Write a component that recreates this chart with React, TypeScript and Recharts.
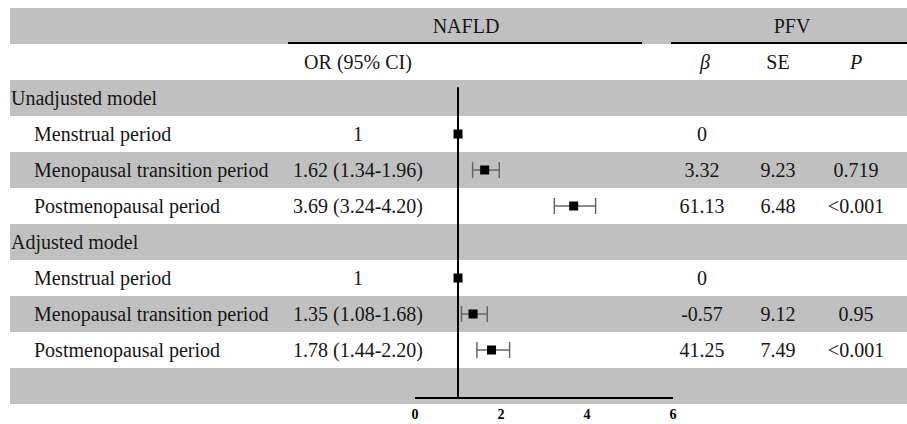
import {
  ScatterChart,
  Scatter,
  ErrorBar,
  XAxis,
  YAxis,
  ReferenceArea,
  ReferenceLine,
} from "recharts";

const groups = ["Unadjusted model", "Adjusted model"];
const periods = ["Menstrual period", "Menopausal transition period", "Postmenopausal period"];
const orEst = [1, 1.62, 3.69, 1, 1.35, 1.78];
const orLow = [null, 1.34, 3.24, null, 1.08, 1.44];
const orHigh = [null, 1.96, 4.2, null, 1.68, 2.2];
const betaVals = ["0", "3.32", "61.13", "0", "-0.57", "41.25"];
const seVals = ["", "9.23", "6.48", "", "9.12", "7.49"];
const pVals = ["", "0.719", "<0.001", "", "0.95", "<0.001"];
const xTicks = [0, 2, 4, 6];
const refOR = 1;

const FONT = "'Liberation Serif', 'Times New Roman', serif";
const GRAY = "#c0c0c0";
const TEXT = "#161616";
const W = 907;
const H = 424;
const PLOT_LEFT = 415;
const PLOT_RIGHT = 673;
const TOP = 8;
const AXIS_Y = 398;
const ROW_H = 36;
const Y_AXIS_W = 1;
const FS = 20;

// table column positions (px)
const COL_GROUP = 11;
const COL_LABEL = 34;
const COL_OR = 358;
const COL_NAFLD = 466;
const COL_PFV = 792;
const COL_BETA = 702;
const COL_SE = 778;
const COL_P = 856;

type Row = { kind: "head" | "sub" | "group" | "item" | "blank"; label?: string; i?: number };

const tableRows: Row[] = [{ kind: "head" }, { kind: "sub" }];
groups.forEach((g, gi) => {
  tableRows.push({ kind: "group", label: g });
  periods.forEach((p, pi) => tableRows.push({ kind: "item", label: p, i: gi * periods.length + pi }));
});
tableRows.push({ kind: "blank" });

const points = tableRows
  .map((r, idx) => ({ r, idx }))
  .filter(({ r }) => r.kind === "item")
  .map(({ r, idx }) => {
    const i = r.i as number;
    const lo = orLow[i];
    const hi = orHigh[i];
    return {
      row: idx + 0.5,
      or: orEst[i],
      err: lo == null || hi == null ? undefined : [orEst[i] - lo, hi - orEst[i]],
    };
  });

const yMax = (AXIS_Y - TOP) / ROW_H;
const unitsPerPx = (xTicks[xTicks.length - 1] - xTicks[0]) / (PLOT_RIGHT - PLOT_LEFT);
const bandX1 = (10 - PLOT_LEFT) * unitsPerPx;
const bandX2 = (W - PLOT_LEFT) * unitsPerPx;
const rowTicks = tableRows.map((_, i) => i + 0.5);

function orText(i: number) {
  const lo = orLow[i];
  const hi = orHigh[i];
  if (lo == null || hi == null) return String(orEst[i]);
  return `${orEst[i].toFixed(2)} (${lo.toFixed(2)}-${hi.toFixed(2)})`;
}

function cell(x: number, y: number, s: string, anchor = "middle", italic = false) {
  return (
    <text
      x={x}
      y={y}
      dy="0.34em"
      textAnchor={anchor}
      fill={TEXT}
      style={{ fontFamily: FONT, fontSize: FS, fontStyle: italic ? "italic" : "normal" }}
    >
      {s}
    </text>
  );
}

function RowTick(props: any) {
  const { y, payload } = props;
  const r = Math.round(payload.value - 0.5);
  const row = tableRows[r];
  if (!row) return null;
  if (row.kind === "head") {
    return (
      <g>
        {cell(COL_NAFLD, y, "NAFLD")}
        {cell(COL_PFV, y, "PFV")}
        <line x1={288} x2={642} y1={y + 17} y2={y + 17} stroke="#000" strokeWidth={2} />
        <line x1={671} x2={W} y1={y + 17} y2={y + 17} stroke="#000" strokeWidth={2} />
      </g>
    );
  }
  if (row.kind === "sub") {
    return (
      <g>
        {cell(COL_OR, y, "OR (95% CI)")}
        {cell(COL_BETA + 3, y, "β", "middle", true)}
        {cell(COL_SE, y, "SE")}
        {cell(COL_P, y, "P", "middle", true)}
      </g>
    );
  }
  if (row.kind === "group") {
    return <g>{cell(COL_GROUP, y, row.label as string, "start")}</g>;
  }
  if (row.kind === "item") {
    const i = row.i as number;
    return (
      <g>
        {cell(COL_LABEL, y, row.label as string, "start")}
        {cell(COL_OR, y, orText(i))}
        {cell(COL_BETA, y, betaVals[i])}
        {cell(COL_SE, y, seVals[i])}
        {cell(COL_P, y, pVals[i])}
      </g>
    );
  }
  return null;
}

function Box(props: any) {
  const { cx, cy } = props;
  return <rect x={cx - 4.5} y={cy - 4.5} width={9} height={9} fill="#000" />;
}

export default function App() {
  return (
    <div style={{ position: "absolute", left: 0, top: 0, background: "#fff", fontFamily: FONT }}>
      <ScatterChart
        width={W}
        height={H}
        margin={{ top: TOP, right: W - PLOT_RIGHT, bottom: 0, left: PLOT_LEFT - Y_AXIS_W }}
      >
        {tableRows.map((_, i) =>
          i % 2 === 0 ? (
            <ReferenceArea
              key={`band-${i}`}
              x1={bandX1}
              x2={bandX2}
              y1={i}
              y2={i + 1}
              fill={GRAY}
              fillOpacity={1}
              stroke="none"
              ifOverflow="visible"
            />
          ) : null
        )}
        <XAxis
          type="number"
          dataKey="or"
          domain={[xTicks[0], xTicks[xTicks.length - 1]]}
          ticks={xTicks}
          height={H - AXIS_Y}
          tickLine={false}
          tickMargin={5}
          axisLine={{ stroke: "#000", strokeWidth: 2 }}
          tick={{ style: { fontFamily: FONT, fontWeight: "bold", fontSize: 14 }, fill: "#000" }}
        />
        <YAxis
          type="number"
          dataKey="row"
          domain={[0, yMax]}
          allowDataOverflow
          reversed
          ticks={rowTicks}
          width={Y_AXIS_W}
          axisLine={false}
          tickLine={false}
          tick={<RowTick />}
          interval={0}
        />
        <ReferenceLine
          segment={[
            { x: refOR, y: 2.2 },
            { x: refOR, y: yMax },
          ]}
          stroke="#000"
          strokeWidth={2}
          ifOverflow="visible"
        />
        <Scatter data={points} shape={<Box />} isAnimationActive={false}>
          <ErrorBar
            dataKey="err"
            direction="x"
            width={8}
            stroke="#666"
            strokeWidth={1.5}
            isAnimationActive={false}
          />
        </Scatter>
      </ScatterChart>
    </div>
  );
}
